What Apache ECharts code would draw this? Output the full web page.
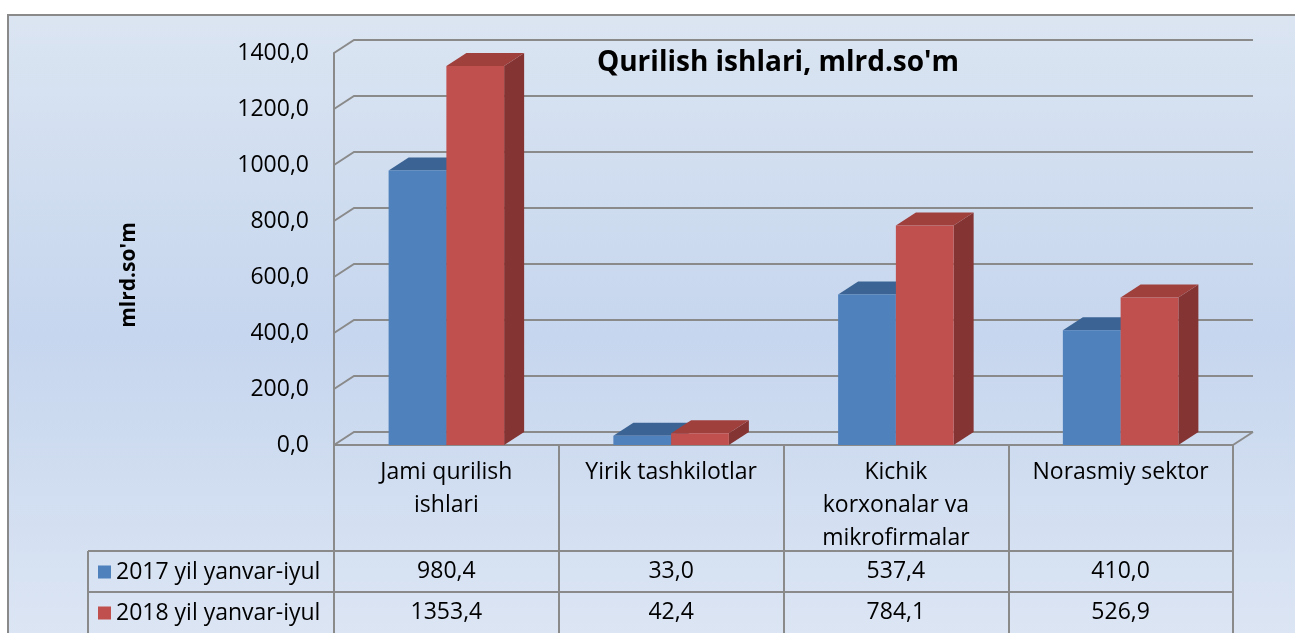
<!DOCTYPE html>
<html>
<head>
<meta charset="utf-8">
<script src="https://cdn.jsdelivr.net/npm/echarts@6/dist/echarts.min.js"></script>
<style>
html, body { margin: 0; padding: 0; background: #fff; }
#main { width: 1295px; height: 633px; }
</style>
</head>
<body>
<div id="main"></div>
<script>
// kategoriyalar va qiymatlar
var categories = ['Jami qurilish\nishlari', 'Yirik tashkilotlar', 'Kichik\nkorxonalar va\nmikrofirmalar', 'Norasmiy sektor'];
var seriesNames = ['2017 yil yanvar-iyul', '2018 yil yanvar-iyul'];
var values2017 = [980.4, 33.0, 537.4, 410.0];
var values2018 = [1353.4, 42.4, 784.1, 526.9];
var yTicks = [0, 200, 400, 600, 800, 1000, 1200, 1400];
var titleText = "Qurilish ishlari, mlrd.so'm";
var yName = "mlrd.so'm";

var FONT = 'Open Sans';
var LINE = '#8a8a8a';
var DX = 20, DY = 13; // 3D chuqurlik
var faceColors = [
	{ front: '#4f81bd', top: '#3b6494', side: '#2f5480' },
	{ front: '#c0504d', top: '#a0403d', side: '#843432' }
];

function fmt(v) {
	return v.toFixed(1).replace('.', ',');
}

function barRender(sIdx) {
	return function (params, api) {
		var cat = api.value(0);
		var val = api.value(1);
		var top = api.coord([cat, val]);
		var base = api.coord([cat, 0]);
		var band = api.size([1, 0])[0];
		var w = band * 0.257;
		var xl = sIdx === 0 ? top[0] - w : top[0];
		var xr = xl + w;
		var c = faceColors[sIdx];
		return {
			type: 'group',
			children: [
				{ type: 'polygon', shape: { points: [[xr, top[1]], [xr + DX, top[1] - DY], [xr + DX, base[1] - DY], [xr, base[1]]] }, style: { fill: c.side } },
				{ type: 'polygon', shape: { points: [[xl, top[1]], [xl + DX, top[1] - DY], [xr + DX, top[1] - DY], [xr, top[1]]] }, style: { fill: c.top } },
				{ type: 'rect', shape: { x: xl, y: top[1], width: w, height: base[1] - top[1] }, style: { fill: c.front } }
			]
		};
	};
}

// orqa devor chiziqlari
function gridRender(params, api) {
	var v = api.value(1);
	var half = api.size([1, 0])[0] / 2;
	var x0 = api.coord([0, v])[0] - half;
	var x1 = api.coord([categories.length - 1, v])[0] + half;
	var y = api.coord([0, v])[1];
	var children = [{
		type: 'polyline',
		shape: { points: [[x0, y], [x0 + DX, y - DY], [x1 + DX, y - DY]] },
		style: { stroke: LINE, lineWidth: 2, fill: null }
	}];
	if (v === 0) {
		children.push({
			type: 'line',
			shape: { x1: x1, y1: y, x2: x1 + DX, y2: y - DY },
			style: { stroke: LINE, lineWidth: 2 }
		});
	}
	return { type: 'group', children: children };
}

var chart = echarts.init(document.getElementById('main'));
var option = {
	backgroundColor: '#fff',
	color: ['#4f81bd', '#c0504d'],
	textStyle: { fontFamily: FONT },
	grid: { left: 334, right: 62, top: 53, bottom: 188 },
	legend: {
		data: seriesNames,
		orient: 'vertical',
		left: 98, top: 559,
		itemWidth: 13, itemHeight: 13, itemGap: 15,
		icon: 'rect', padding: 0,
		textStyle: { fontFamily: FONT, fontSize: 23, color: '#000', lineHeight: 26 }
	},
	xAxis: {
		type: 'category',
		data: categories,
		axisLine: { lineStyle: { color: LINE, width: 2 } },
		axisTick: { show: true, length: 188, interval: 0, lineStyle: { color: LINE, width: 2 } },
		axisLabel: { interval: 0, margin: 11, fontFamily: FONT, fontSize: 23, lineHeight: 33, color: '#000', verticalAlign: 'top' },
		splitLine: { show: false }
	},
	yAxis: {
		type: 'value',
		min: 0, max: 1400, interval: 200,
		axisLine: { show: true, lineStyle: { color: LINE, width: 2 } },
		axisTick: { show: false },
		splitLine: { show: false },
		axisLabel: { margin: 25, fontFamily: FONT, fontSize: 23, color: '#000', formatter: fmt }
	},
	series: [
		{ type: 'custom', name: 'grid', renderItem: gridRender, data: yTicks.map(function (v) { return [0, v]; }), silent: true, z: 1 },
		{ type: 'custom', name: seriesNames[0], renderItem: barRender(0), data: values2017.map(function (v, i) { return [i, v]; }), itemStyle: { color: '#4f81bd' }, z: 2 },
		{ type: 'custom', name: seriesNames[1], renderItem: barRender(1), data: values2018.map(function (v, i) { return [i, v]; }), itemStyle: { color: '#c0504d' }, z: 3 }
	]
};
chart.setOption(option);

// jadval va fon
var rowY = [571, 612];
var graphics = [{
	type: 'rect', z: -10, silent: true,
	shape: { x: 8, y: 15, width: 1300, height: 640 },
	style: {
		fill: new echarts.graphic.LinearGradient(0, 0, 0, 1, [
			{ offset: 0, color: '#dbe5f2' },
			{ offset: 0.5, color: '#c6d6ee' },
			{ offset: 1, color: '#dde6f4' }
		]),
		stroke: LINE, lineWidth: 2
	}
}, {
	type: 'text', x: 778, y: 63,
	style: { text: titleText, font: 'bold 28px "' + FONT + '"', fill: '#000', textAlign: 'center', textVerticalAlign: 'middle' }
}, {
	type: 'text', x: 129, y: 275, rotation: Math.PI / 2,
	style: { text: yName, font: 'bold 21px "' + FONT + '"', fill: '#000', textAlign: 'center', textVerticalAlign: 'middle' }
}];
[551, 592].forEach(function (y) {
	graphics.push({ type: 'line', shape: { x1: 88, y1: y, x2: 1233, y2: y }, style: { stroke: LINE, lineWidth: 2 } });
});
graphics.push({ type: 'line', shape: { x1: 88, y1: 551, x2: 88, y2: 640 }, style: { stroke: LINE, lineWidth: 2 } });
[values2017, values2018].forEach(function (vals, r) {
	vals.forEach(function (v, i) {
		var x = chart.convertToPixel({ xAxisIndex: 0 }, i);
		graphics.push({
			type: 'text', x: x, y: rowY[r],
			style: { text: fmt(v), font: '23px "' + FONT + '"', fill: '#000', textAlign: 'center', textVerticalAlign: 'middle' }
		});
	});
});
chart.setOption({ graphic: graphics });
window.addEventListener('resize', chart.resize);
</script>
</body>
</html>
